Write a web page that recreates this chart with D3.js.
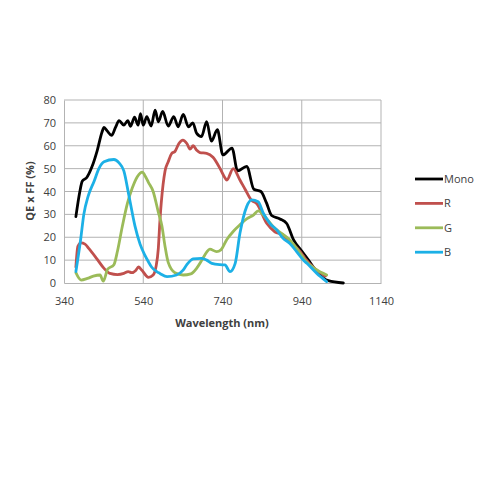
<!DOCTYPE html>
<html><head><meta charset="utf-8">
<script src="https://cdn.jsdelivr.net/npm/d3@7"></script>
<style>body{margin:0;background:#fff}svg{display:block}text{font-family:"Open Sans",sans-serif}</style>
</head><body><svg id="c" width="500" height="500"></svg>
<script>
const xTicks = [340, 540, 740, 940, 1140];
const yTicks = [0, 10, 20, 30, 40, 50, 60, 70, 80];
const seriesNames = ["Mono", "R", "G", "B"];
const seriesColors = ["#000000", "#c0504d", "#9bbb59", "#1cb0e6"];
const monoWl = [370,380,386,397,411,424,436,441,449,460,470,479,491,501,508,518,527,533,540,549,560,570,578,589,603,617,628,641,654,665,675,687,700,712,727,741,764,778,801,819,837,851,864,885,902,919,940,957,978,1007,1045];
const monoVal = [29,40,44.5,46,51,58,66,68,66.5,64.5,68,71,69,71,68.5,72.5,69,74,69,72.7,68.6,75.6,70.5,75,68.6,72.7,68.3,73.7,68.3,70,65.4,64,70.5,62,67,56,59,49,51,41,40,35,29.5,28,26,19,14,10,5,1,0];
const rWl = [370,375,383,393,403,422,441,456,475,491,502,511,521,528,536,553,565,572,578,582,590,595,603,612,620,630,640,650,658,666,675,683,700,716,734,746,751,767,784,797,814,826,852,872,893,915,936,948,975,1000];
const rVal = [7,16,17.5,17,15,10.8,6.4,4.2,3.7,4.2,5,4.5,5.5,7,5.7,2.5,3.5,7,15,27,43,49,53,56.7,57.5,61,62.5,61,58.5,60,58,57,56.7,55,50,46,45,50,45,41,36,34.8,26,22.4,21,17.3,13.7,10.8,6,3];
const gWl = [370,383,399,414,431,439,450,466,475,487,500,512,525,538,544,553,565,578,587,595,603,620,641,660,675,688,700,708,725,736,751,767,784,801,818,830,847,868,889,910,936,948,975,1003];
const gVal = [4.5,1.3,2,3,3.5,0.8,6,8,14,24.6,34.8,41.4,46.5,48.5,47,44,40,31,25,16,9,4.5,3.5,4,6.5,10,13.5,14.8,13.7,14.5,19,22.5,25.4,28,29.7,31.5,29,24.6,21.7,18.8,13,10,6,3.5];
const bWl = [370,382,390,401,416,428,441,466,479,491,504,519,532,544,553,561,574,582,600,624,640,650,666,687,700,713,734,746,759,772,784,801,814,830,843,860,877,893,910,927,944,953,978,1003];
const bVal = [5,19,30,38,44.5,50,53,54,52.5,49,38,25,17,12.2,9.3,7,5,4.2,2.8,3.5,5.5,8,10.5,10.8,10,8.6,8,7.9,5,8.6,21.7,33.4,36.3,35.5,30.5,26,23.2,19.5,17.3,13.7,10,8.6,4.2,0.6];

const series = [
  {name: seriesNames[0], wl: monoWl, v: monoVal, color: seriesColors[0]},
  {name: seriesNames[1], wl: rWl, v: rVal, color: seriesColors[1]},
  {name: seriesNames[2], wl: gWl, v: gVal, color: seriesColors[2]},
  {name: seriesNames[3], wl: bWl, v: bVal, color: seriesColors[3]}
];

const svg = d3.select("#c");
const L = 64, R = 381, T = 100, B = 283;
const x = d3.scaleLinear().domain([340, 1140]).range([L, R]);
const y = d3.scaleLinear().domain([0, 80]).range([B, T]);
const grid = "#b3b3b3";

svg.append("g").selectAll("line").data(yTicks.filter(d => d > 0)).join("line")
  .attr("x1", L).attr("x2", R).attr("y1", d => y(d)).attr("y2", d => y(d))
  .attr("stroke", grid).attr("stroke-width", 1);
svg.append("g").selectAll("line").data(xTicks.filter(d => d > 340)).join("line")
  .attr("x1", d => x(d)).attr("x2", d => x(d)).attr("y1", T).attr("y2", B)
  .attr("stroke", grid).attr("stroke-width", 1);

const xAxis = svg.append("g").attr("transform", `translate(0,${B})`)
  .call(d3.axisBottom(x).tickValues(xTicks).tickFormat(d3.format("d")).tickSize(0).tickPadding(14));
const yAxis = svg.append("g").attr("transform", `translate(${L},0)`)
  .call(d3.axisLeft(y).tickValues(yTicks).tickFormat(d3.format("d")).tickSize(0).tickPadding(8));
[xAxis, yAxis].forEach(a => {
  a.select(".domain").attr("stroke", grid);
  a.selectAll("text").attr("font-size", 11).attr("fill", "#404040").attr("font-family", "'Open Sans',sans-serif");
});

const line = d3.line().x(d => x(d[0])).y(d => y(d[1])).curve(d3.curveMonotoneX);
svg.append("g").selectAll("path").data(series).join("path")
  .attr("d", s => line(s.wl.map((w, i) => [w, s.v[i]])))
  .attr("fill", "none").attr("stroke", s => s.color).attr("stroke-width", 2.8)
  .attr("stroke-linejoin", "round").attr("stroke-linecap", "round");

svg.append("text").attr("x", 222).attr("y", 327).attr("text-anchor", "middle")
  .attr("font-size", 11).attr("font-weight", "bold").attr("fill", "#404040").text("Wavelength (nm)");
svg.append("text").attr("transform", "translate(34,191) rotate(-90)").attr("text-anchor", "middle")
  .attr("font-size", 11).attr("font-weight", "bold").attr("fill", "#404040").text("QE x FF (%)");

const lg = svg.append("g").selectAll("g").data(series).join("g")
  .attr("transform", (d, i) => `translate(415,${179 + i * 24.4})`);
lg.append("line").attr("x1", 0).attr("x2", 28).attr("stroke", d => d.color).attr("stroke-width", 2.8);
lg.append("text").attr("x", 29).attr("y", 4).attr("font-size", 11).attr("fill", "#404040").text(d => d.name);
</script></body></html>
